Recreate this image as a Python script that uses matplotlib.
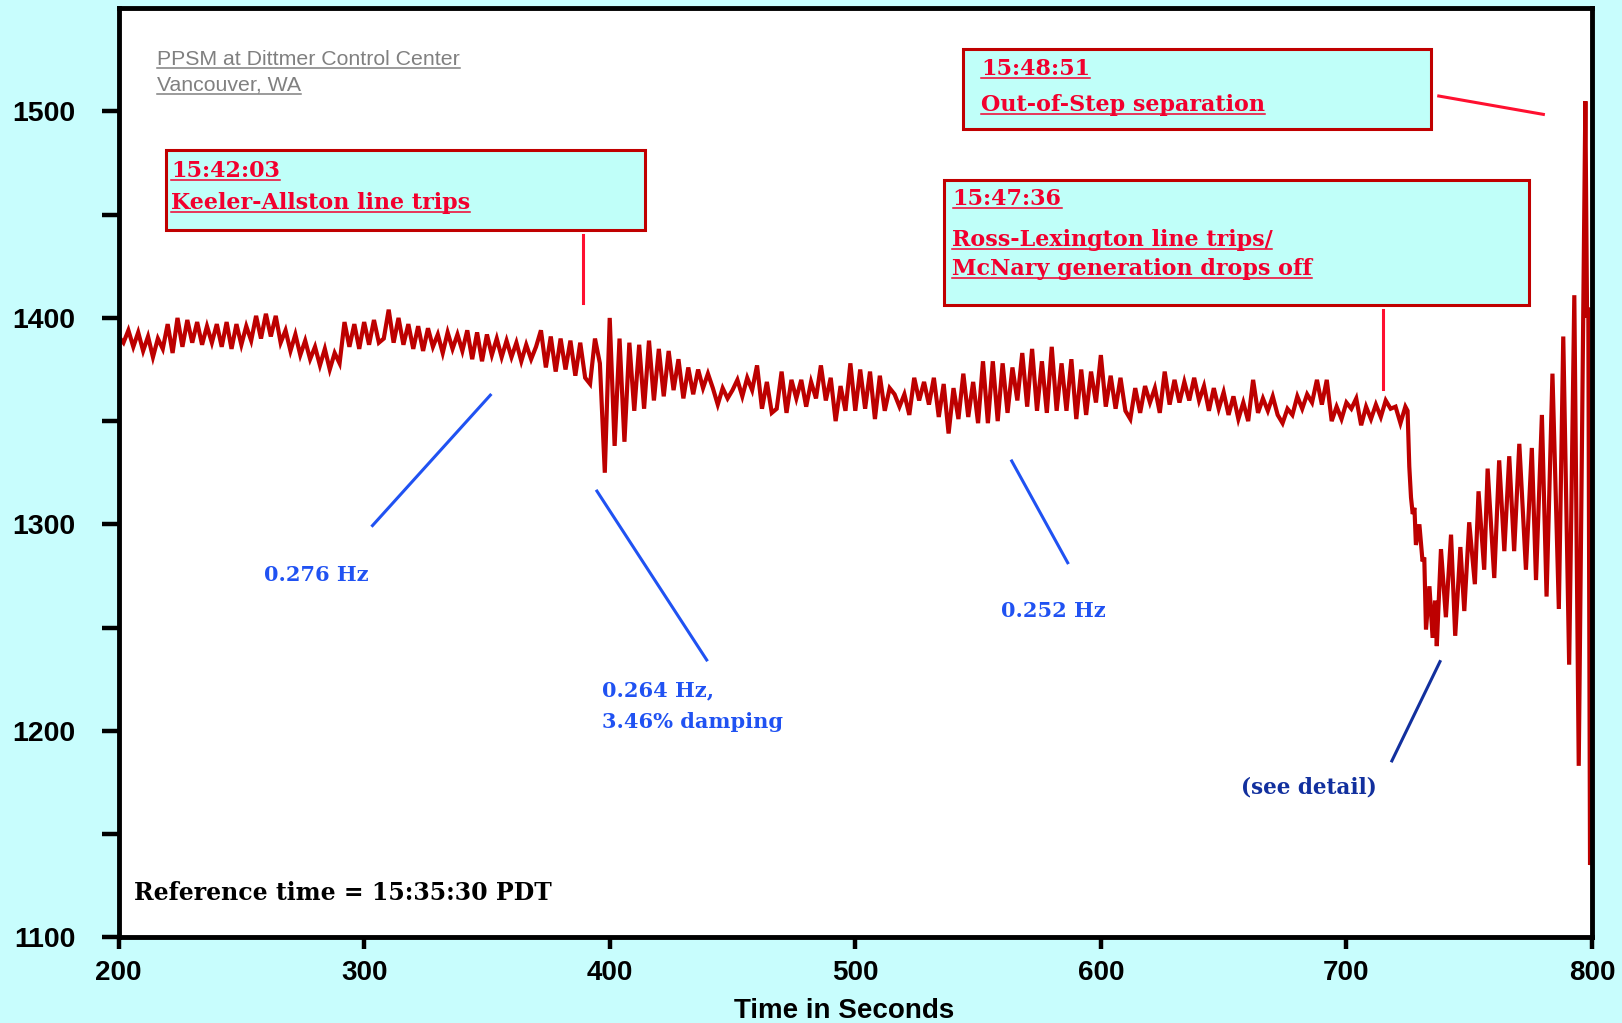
import numpy as np
import matplotlib
matplotlib.use('Agg')
import matplotlib.pyplot as plt
from matplotlib.lines import Line2D
from matplotlib.patches import Rectangle

# power flow (MW), 2 s steps until the Ross-Lexington trip
t_pre = np.arange(200, 400, 2)
mw_pre = [1391, 1388, 1394, 1386, 1393, 1384, 1391, 1381, 1390, 1385,
          1397, 1383, 1400, 1386, 1399, 1388, 1398, 1387, 1396, 1388,
          1397, 1386, 1398, 1385, 1397, 1387, 1396, 1389, 1401, 1390,
          1402, 1391, 1401, 1388, 1394, 1384, 1392, 1382, 1389, 1380,
          1386, 1377, 1385, 1375, 1383, 1378, 1398, 1386, 1397, 1385,
          1398, 1387, 1399, 1388, 1390, 1404, 1388, 1400, 1387, 1397,
          1385, 1396, 1384, 1395, 1386, 1392, 1383, 1393, 1385, 1392,
          1384, 1394, 1380, 1393, 1379, 1392, 1382, 1390, 1381, 1389,
          1381, 1388, 1379, 1387, 1380, 1386, 1394, 1376, 1391, 1374,
          1390, 1375, 1389, 1372, 1388, 1371, 1368, 1390, 1378, 1325]

t_mid = np.arange(400, 725, 2)
mw_mid = [1400, 1338, 1390, 1340, 1388, 1355, 1387, 1356, 1389, 1360,
          1385, 1362, 1384, 1365, 1380, 1361, 1376, 1363, 1375, 1366,
          1373, 1366, 1358, 1366, 1361, 1365, 1370, 1362, 1371, 1365,
          1377, 1356, 1369, 1354, 1356, 1374, 1354, 1370, 1361, 1370,
          1357, 1369, 1361, 1377, 1360, 1371, 1350, 1367, 1355, 1378,
          1355, 1375, 1356, 1374, 1351, 1372, 1355, 1366, 1363, 1357,
          1363, 1353, 1371, 1360, 1369, 1358, 1371, 1352, 1368, 1344,
          1366, 1351, 1373, 1352, 1369, 1349, 1379, 1349, 1379, 1350,
          1378, 1354, 1376, 1360, 1383, 1357, 1385, 1355, 1379, 1354,
          1386, 1355, 1378, 1355, 1380, 1351, 1375, 1353, 1374, 1359,
          1382, 1357, 1372, 1356, 1371, 1355, 1351, 1366, 1354, 1367,
          1359, 1366, 1354, 1374, 1358, 1370, 1359, 1369, 1360, 1371,
          1360, 1367, 1355, 1366, 1356, 1364, 1353, 1362, 1351, 1359,
          1350, 1370, 1354, 1361, 1355, 1362, 1353, 1349, 1356, 1353,
          1362, 1356, 1363, 1359, 1370, 1358, 1370, 1350, 1357, 1351,
          1359, 1356, 1361, 1348, 1357, 1351, 1358, 1352, 1360, 1356,
          1357, 1349, 1357]

# after the trip: peaks and troughs
t_post = [724.9, 725.6, 726.3, 727.0, 727.7, 728.3, 729.7, 731.0, 731.7, 732.4,
          733.8, 735.1, 736.1, 736.8, 738.5, 740.5, 742.6, 744.3, 746.4, 748.0,
          750.0, 752.3, 753.8, 756.1, 757.5, 760.2, 762.2, 764.3, 766.3, 768.3,
          770.4, 773.1, 775.5, 777.2, 779.6, 781.5, 783.9, 786.5, 788.3, 790.7,
          792.8, 794.6, 797.3, 798.0, 798.5, 799.2, 800.0]
mw_post = [1355, 1328, 1313, 1305, 1308, 1290, 1300, 1282, 1284, 1249,
           1270, 1245, 1263, 1241, 1288, 1255, 1295, 1246, 1289, 1258,
           1301, 1271, 1316, 1278, 1327, 1274, 1331, 1287, 1333, 1287,
           1339, 1278, 1337, 1273, 1353, 1265, 1373, 1259, 1391, 1232,
           1411, 1183, 1505, 1400, 1405, 1135, 1140]

xticks = [200, 300, 400, 500, 600, 700, 800]
yticks = [1100, 1200, 1300, 1400, 1500]
yminor = [1150, 1250, 1350, 1450]

bg = '#c8fdfd'
box_face = '#c0fff9'
box_edge = '#c00000'
red_txt = '#f2002e'
blue = '#2052f2'
navy = '#12309e'
serif = dict(family='DejaVu Serif', weight='bold')

fig = plt.figure(figsize=(16.22, 10.23), dpi=100, facecolor=bg)
ax = fig.add_axes([0.0731, 0.0839, 0.9084, 0.908])
ax.set_facecolor('white')

t = np.concatenate([t_pre, t_mid, t_post])
mw = np.concatenate([mw_pre, mw_mid, mw_post])
ax.plot(t, mw, color='#bd0000', lw=3.0, solid_joinstyle='miter', zorder=2)

ax.set_xlim(200, 800)
ax.set_ylim(1100, 1550)
ax.set_xticks(xticks)
ax.set_yticks(yticks)
ax.set_yticks(yminor, minor=True)
for s in ax.spines.values():
    s.set_linewidth(3.5)
    s.set_color('black')
ax.tick_params(axis='x', direction='out', length=8.5, width=3.2, pad=8, labelsize=20)
ax.tick_params(axis='y', which='both', direction='out', length=12, width=3.2, pad=19, labelsize=20.5)
for lab in ax.get_xticklabels() + ax.get_yticklabels():
    lab.set_family('Liberation Sans')
    lab.set_weight('bold')

fig.text(844 / 1622, 1 - 1011 / 1023, 'Time in Seconds', ha='center', va='center',
         family='Liberation Sans', weight='bold', fontsize=20)

underlined = []

g1 = ax.text(215.6, 1522.5, 'PPSM at Dittmer Control Center', color='#808080',
             family='Liberation Sans', fontsize=15.3, va='baseline')
g2 = ax.text(215.6, 1510.1, 'Vancouver, WA', color='#808080',
             family='Liberation Sans', fontsize=15.3, va='baseline')
underlined += [g1, g2]

# event boxes
boxes = [((219.5, 1442.6), 194.7, 38.8),
         ((544.0, 1491.7), 190.3, 38.4),
         ((536.3, 1406.3), 238.1, 60.5)]
for xy, w, h in boxes:
    ax.add_patch(Rectangle(xy, w, h, facecolor=box_face, edgecolor=box_edge, lw=2.2, zorder=3))

red_texts = [(221.5, 1468.4, '15:42:03'),
             (221.5, 1452.6, 'Keeler-Allston line trips'),
             (551.2, 1517.7, '15:48:51'),
             (551.2, 1500.2, 'Out-of-Step separation'),
             (539.6, 1454.7, '15:47:36'),
             (539.2, 1434.8, 'Ross-Lexington line trips/'),
             (539.2, 1420.8, 'McNary generation drops off')]
for x, y, s in red_texts:
    underlined.append(ax.text(x, y, s, color=red_txt, fontsize=16, va='baseline', zorder=4, **serif))

# connector lines
ax.plot([389.3, 389.3], [1440.3, 1407.2], color='#ff1030', lw=2.2, zorder=3)
ax.plot([737.6, 780.2], [1507.5, 1498.6], color='#ff1030', lw=2.2, zorder=3)
ax.plot([715.0, 715.0], [1404.0, 1365.7], color='#ff1030', lw=2.2, zorder=3)
ax.plot([303.4, 351.4], [1299.4, 1362.6], color=blue, lw=2.2)
ax.plot([394.8, 439.5], [1316.1, 1234.3], color=blue, lw=2.2)
ax.plot([563.7, 586.5], [1330.7, 1281.4], color=blue, lw=2.2)
ax.plot([738.1, 718.5], [1233.5, 1185.4], color=navy, lw=2.2)

ax.text(259.4, 1272.7, '0.276 Hz', color=blue, fontsize=15, va='baseline', **serif)
ax.text(396.8, 1216.8, '0.264 Hz,', color=blue, fontsize=15, va='baseline', **serif)
ax.text(396.8, 1201.2, '3.46% damping', color=blue, fontsize=15, va='baseline', **serif)
ax.text(559.5, 1255.1, '0.252 Hz', color=blue, fontsize=15, va='baseline', **serif)
ax.text(657.2, 1169.5, '(see detail)', color=navy, fontsize=15.5, va='baseline', **serif)
ax.text(206.2, 1118.0, 'Reference time = 15:35:30 PDT', color='black', fontsize=17,
        va='baseline', **serif)

# underline the labelled texts just below their baseline
fig.canvas.draw()
r = fig.canvas.get_renderer()
inv = fig.transFigure.inverted()
for txt in underlined:
    bb = txt.get_window_extent(r)
    yb = ax.transData.transform(txt.get_position())[1] - 3
    (x0, y0), (x1, _) = inv.transform([(bb.x0, yb), (bb.x1, yb)])
    fig.add_artist(Line2D([x0, x1], [y0, y0], color=txt.get_color(), lw=1.1, zorder=5))

fig.savefig('out.png', dpi=100, facecolor=bg)
